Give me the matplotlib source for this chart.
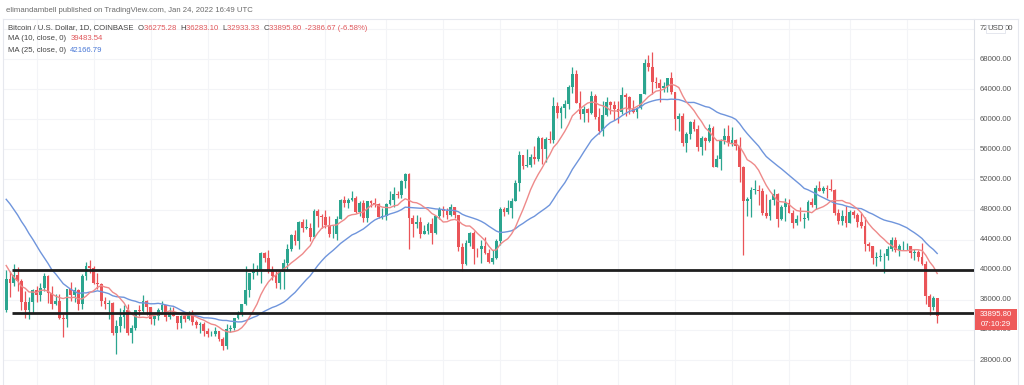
import numpy as np
import pandas as pd
import matplotlib
matplotlib.use("Agg")
import matplotlib.pyplot as plt
from matplotlib.patches import Rectangle

plt.rcParams['font.family'] = ['Liberation Sans', 'DejaVu Sans']

# daily BTC/USD (COINBASE), 2021-05-24 .. 2022-01-24
start = "2021-05-24"

# closes of the 24 days before the first candle (for the moving averages)
warmup_close = [53600, 57800, 56600, 57200, 53200, 57500, 56400, 57400, 58900, 58300, 55800, 56700,
                49400, 49700, 49900, 46700, 46400, 43600, 42900, 37000, 40700, 37300, 37500, 34700]

close = [
    # May
    38800, 38300, 39300, 38500, 35700, 34600, 35700, 37300,
    # Jun
    36700, 37600, 39200, 36900, 35500, 35800, 33600, 33400, 37400, 36700, 37300, 35500, 39100, 40500, 40200,
    38300, 38100, 35800, 35500, 35600, 31600, 32500, 33700, 34600, 31600, 32200, 34700, 34500, 35900, 35000,
    # Jul
    33500, 33800, 34700, 35300, 33700, 34200, 33900, 32900, 33800, 33500, 34200, 33100, 32700, 32800, 31800,
    31400, 31500, 31800, 30800, 29800, 32100, 32300, 33600, 34300, 35400, 37300, 39500, 40000, 40000, 42200, 41500,
    # Aug
    39900, 39200, 38200, 39700, 40900, 42800, 44600, 43800, 46300, 45600, 45600, 44400, 47800, 47100, 47000,
    45900, 44700, 44700, 46800, 49300, 48900, 49300, 49500, 47700, 48900, 46900, 49100, 48900, 48800, 47000, 47100,
    # Sep
    48800, 49300, 50000, 49900, 51800, 52700, 46900, 46100, 46400, 44800, 45200, 46100, 44900, 47100, 48100,
    47800, 47300, 48300, 47300, 43000, 40700, 43600, 44900, 42800, 42700, 43200, 42200, 41000, 41500, 43800,
    # Oct
    48100, 47700, 48200, 49200, 51500, 55300, 53800, 53900, 55000, 54700, 57500, 56000, 57400, 57300, 61700,
    60900, 61500, 62000, 64300, 66000, 62200, 60700, 61300, 60900, 63100, 60300, 58500, 60600, 62300, 61900, 61300,
    # Nov
    61000, 63200, 62900, 61400, 61000, 61500, 63300, 67500, 66900, 64900, 64800, 64100, 64400, 65500, 63600,
    60100, 60400, 56900, 58100, 59700, 58700, 56300, 57500, 57100, 58900, 53700, 54700, 57300, 57800, 56900,
    # Dec
    57200, 56500, 53600, 49200, 49400, 50600, 50600, 50500, 47600, 47100, 49300, 50100, 46700, 48400, 48900,
    47600, 46200, 46800, 46700, 46900, 49000, 48600, 50800, 50400, 50800, 50700, 50600, 47500, 46500, 47100, 46200,
    # Jan
    47700, 47300, 46400, 45800, 43400, 43100, 41500, 41700, 41800, 41800, 42700, 43900, 42600, 43100, 43100,
    43100, 42200, 42400, 41700, 40700, 36500, 35100, 36275.28, 33895.80,
]

high = [
    39900, 39800, 40800, 40400, 38800, 37200, 36400, 37500,
    37900, 38200, 39500, 39300, 37900, 36800, 36800, 34100, 37500, 38400, 37700, 37400, 39400, 41000, 41300,
    40500, 39500, 38200, 36400, 36000, 35700, 33300, 34900, 35300, 35500, 32700, 34700, 35300, 36600, 36000,
    35000, 33900, 34900, 35900, 35300, 35100, 35000, 33900, 34000, 34200, 34500, 34600, 33300, 33100, 33100,
    32200, 31900, 32400, 31900, 31000, 32800, 32600, 33600, 34500, 35400, 40500, 39500, 40900, 40600, 42300, 42400,
    42600, 40500, 39800, 39900, 41400, 43400, 44700, 45300, 46500, 46700, 46800, 46200, 48100, 48100, 47400,
    48000, 47100, 46000, 47100, 49400, 49800, 49500, 50500, 49800, 49200, 49300, 49200, 49300, 49600, 48900, 48200,
    48900, 50400, 51000, 50500, 51900, 52800, 52900, 47300, 47300, 47000, 45900, 46400, 46900, 47200, 48400,
    48500, 48200, 48800, 48300, 47300, 43600, 44000, 45000, 45200, 42900, 44000, 44300, 42800, 42600, 44100,
    48400, 48400, 49300, 49500, 51900, 55800, 55300, 56100, 55400, 56500, 57800, 57600, 57700, 58500, 62900,
    62300, 61700, 62600, 64500, 67000, 66600, 63700, 61700, 61500, 63700, 63300, 61500, 62400, 62900, 62400, 62400,
    62400, 64300, 63500, 63100, 62600, 61600, 63300, 68000, 68500, 69000, 65600, 65400, 64900, 65500, 66300,
    63600, 60800, 60900, 58300, 59800, 60000, 59300, 57800, 57700, 59400, 59100, 55300, 57400, 58800, 59200,
    59000, 57400, 57600, 53800, 49700, 51000, 51900, 51200, 50800, 50100, 49400, 50700, 50200, 48600, 49500,
    49400, 48000, 47300, 48300, 47500, 49300, 49500, 51300, 51800, 51100, 51200, 52000, 50700, 48100, 47900, 48500,
    47900, 47900, 47500, 47500, 47000, 43700, 43100, 42300, 42800, 42200, 43100, 44300, 44400, 43400, 43800,
    43500, 43200, 42700, 42600, 43500, 41100, 36800, 36500, 36283.10,
]

low = [
    34400, 36400, 37800, 37200, 34700, 33600, 33400, 34200,
    35700, 35900, 37200, 35600, 34800, 35300, 33400, 31000, 32400, 35800, 35700, 34600, 34800, 38700, 39500,
    38100, 37400, 35200, 34800, 33400, 31300, 28800, 31700, 32300, 31300, 30200, 32000, 33900, 34200, 34000,
    32800, 32700, 33300, 34400, 33200, 33500, 33800, 32100, 32300, 33100, 33300, 32700, 32300, 31600, 31200,
    31100, 31200, 31200, 30500, 29300, 29500, 31700, 32000, 33400, 33900, 35300, 36400, 38800, 39300, 38300, 41000,
    39500, 38700, 37600, 37500, 37400, 39900, 42500, 43300, 42800, 45000, 45400, 43800, 44200, 45700, 45600,
    45600, 44400, 44200, 43900, 46700, 48300, 48200, 49100, 47600, 47200, 46400, 46400, 48400, 48300, 46900, 46700,
    46600, 48600, 48400, 49500, 49600, 50900, 42800, 44400, 45500, 44200, 44700, 44800, 43400, 44700, 46800,
    47000, 46800, 47100, 46900, 42500, 39800, 40600, 43100, 40800, 41700, 40900, 42100, 40900, 40800, 41400,
    43300, 47100, 47400, 46900, 49100, 50400, 53400, 53700, 53700, 54100, 54500, 54000, 54300, 56800, 56900,
    60200, 58900, 60200, 61400, 63500, 62100, 60000, 59700, 59600, 60700, 60100, 58000, 57800, 60400, 60700, 59900,
    59500, 60700, 60400, 60700, 60800, 60200, 61400, 63300, 66400, 63300, 64200, 62300, 63600, 63600, 63400,
    58600, 58400, 56500, 55600, 57400, 58500, 55800, 55300, 55900, 57000, 53600, 53700, 53300, 56700, 56500,
    56500, 55900, 51700, 42000, 47100, 47000, 50000, 48600, 47300, 46900, 46600, 48600, 45700, 46600, 46500,
    47500, 45500, 45900, 46500, 45600, 46600, 48400, 48100, 50400, 50200, 49600, 50500, 47300, 46100, 46000, 45700,
    46200, 46900, 45700, 45500, 42500, 42500, 40800, 40500, 41200, 39600, 41300, 42500, 42300, 41800, 42600,
    42600, 41500, 41300, 41200, 40600, 35500, 34000, 34600, 32933.33,
]

levels = [40000, 34200]          # hand-drawn support / resistance lines
price_ticks = list(range(28000, 72001, 4000))

# legend values as printed on the snapshot
ohlc_text = ["36275.28", "36283.10", "32933.33", "33895.80"]
change_text = "-2386.67 (-6.58%)"
ma10_text, ma25_text = "39483.54", "42166.79"

# ---- derived series
dates = pd.date_range(start, periods=len(close), freq="D")
c = np.array(close, dtype=float)
h = np.array(high, dtype=float)
l = np.array(low, dtype=float)
o = np.concatenate([[warmup_close[-1]], c[:-1]])
allc = pd.Series(list(warmup_close) + list(close), dtype=float)
ma10 = allc.rolling(10).mean().values[len(warmup_close):]
ma25 = allc.rolling(25).mean().values[len(warmup_close):]
x = np.arange(len(c))

W, H = 1024, 385
fig = plt.figure(figsize=(W / 100, H / 100), dpi=100)
fig.patch.set_facecolor("white")

# pixel geometry of the pane
px_left, px_right, px_top = 3, 974, 19
x0_px, step_px = 6.2, 3.8          # first candle position, candle spacing
ax = fig.add_axes([px_left / W, 0, (px_right - px_left) / W, (H - px_top) / H])
ax.set_xlim((px_left - x0_px) / step_px, (px_right - x0_px) / step_px)
ax.set_ylim(24677, 73329)

up_col, dn_col = "#2ba58f", "#ea5458"
cols = np.where(c >= o, up_col, dn_col)

# grid
for p in price_ticks:
    ax.axhline(p, color="#f3f4f7", lw=0.8, zorder=0)
for d in dates:
    if d.day in (1, 16):
        ax.axvline(x[dates == d][0], color="#f3f4f7", lw=0.8, zorder=0)

# candles
ax.vlines(x, l, h, colors=cols, lw=0.9, zorder=2)
body_lo = np.minimum(o, c)
body_h = np.maximum(np.abs(c - o), 70)
ax.bar(x, body_h, bottom=body_lo, width=0.72, color=cols, lw=0, zorder=3)

# moving averages
ax.plot(x, ma25, color="#6f95dc", lw=1.0, zorder=4)
ax.plot(x, ma10, color="#ee8a8a", lw=1.0, zorder=4)

# support / resistance lines
for lv in levels:
    ax.hlines(lv, 1.5, ax.get_xlim()[1], colors="#1e1e1e", lw=2.0, zorder=5)

ax.set_xticks([])
ax.set_yticks([])
for s in ["top", "bottom"]:
    ax.spines[s].set_visible(False)
ax.spines["left"].set_color("#e6e8ee")
ax.spines["right"].set_color("#dcdfe6")
ax.spines["left"].set_linewidth(0.8)
ax.spines["right"].set_linewidth(0.8)


def fx(px):
    return px / W


def fy(py):
    return 1 - py / H


def data_to_py(price):
    return H - ax.transData.transform((0, price))[1]


# pane border lines
fig.add_artist(plt.Line2D([fx(px_left), fx(1018)], [fy(px_top), fy(px_top)], color="#e6e8ee", lw=0.8))
fig.add_artist(plt.Line2D([fx(1018), fx(1018)], [fy(px_top), 0], color="#e6e8ee", lw=0.8))

# price axis labels (top one is half hidden by the currency badge)
for p in price_ticks[:-1]:
    fig.text(fx(980), fy(data_to_py(p)), f"{p:.2f}", fontsize=5.6, color="#555555",
             ha="left", va="center")
top_py = data_to_py(price_ticks[-1])
fig.text(fx(980), fy(top_py), "72", fontsize=5.6, color="#555555", ha="left", va="center")
fig.text(fx(1013), fy(top_py), "00", fontsize=5.6, color="#555555", ha="right", va="center")
fig.text(fx(995.5), fy(top_py), "USD", fontsize=5.6, color="#555555", ha="center", va="center",
         bbox=dict(boxstyle="square,pad=0.1", fc="white", ec="#e0e3eb", lw=0.6))

# last price badge
fig.add_artist(Rectangle((fx(975), fy(330)), fx(1017) - fx(975), (330 - 309) / H,
                         transform=fig.transFigure, fc="#ee5a5a", ec="none", zorder=10))
fig.text(fx(996), fy(314.5), ohlc_text[3], fontsize=5.6, color="white", ha="center", va="center", zorder=11)
fig.text(fx(996), fy(324.5), "07:10:29", fontsize=5.6, color="white", ha="center", va="center", zorder=11)

# header / legend
renderer = fig.canvas.get_renderer()


def chain(px, py, parts, size=5.6):
    for s, col in parts:
        t = fig.text(fx(px), fy(py), s, fontsize=size, color=col, ha="left", va="center")
        px += t.get_window_extent(renderer=renderer).width


gray, dark = "#6b6b6b", "#444444"
red_txt, blue_txt = "#e0575b", "#4a78d6"
fig.text(fx(6), fy(10), "elimandambell published on TradingView.com, Jan 24, 2022 16:49 UTC",
         fontsize=5.6, color=gray, ha="left", va="center")
chain(8, 28, [("Bitcoin / U.S. Dollar, 1D, COINBASE  ", dark),
              ("O", dark), (ohlc_text[0] + "  ", red_txt),
              ("H", dark), (ohlc_text[1] + "  ", red_txt),
              ("L", dark), (ohlc_text[2] + "  ", red_txt),
              ("C", dark), (ohlc_text[3] + "  ", red_txt),
              (change_text, red_txt)])
chain(8, 39, [("MA (10, close, 0)  ", dark), (ma10_text, red_txt)])
chain(8, 50, [("MA (25, close, 0)  ", dark), (ma25_text, blue_txt)])

fig.savefig("out.png", dpi=100)
